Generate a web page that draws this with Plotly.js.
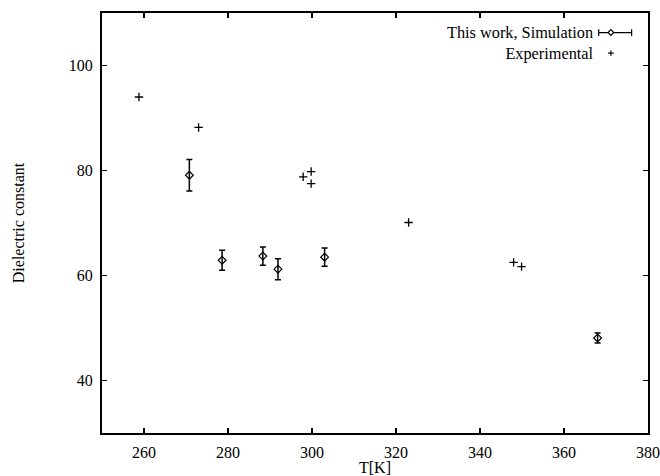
<!DOCTYPE html>
<html>
<head>
<meta charset="utf-8">
<script src="https://cdn.plot.ly/plotly-3.0.1.min.js"></script>
<style>html,body{margin:0;padding:0;background:#fff;}#chart{width:660px;height:476px;}</style>
</head>
<body>
<div id="chart"></div>
<script>
// Simulation (this work)
const simT = [270.8, 278.6, 288.3, 291.9, 303.0, 368.0];
const simEps = [79.1, 62.9, 63.7, 61.2, 63.5, 48.1];
const simErr = [3.0, 1.9, 1.75, 2.0, 1.75, 0.95];
// Experimental
const expT = [258.8, 273.0, 297.9, 299.8, 299.8, 323.0, 348.0, 349.9];
const expEps = [94.0, 88.2, 78.8, 79.8, 77.5, 70.1, 62.5, 61.7];
// Axis ticks
const xTicks = [260, 280, 300, 320, 340, 360, 380];
const yTicks = [40, 60, 80, 100];
const legendNames = ['This work, Simulation', 'Experimental'];

const font = '"Liberation Serif"';

const traces = [
  {
    x: simT, y: simEps, type: 'scatter', mode: 'markers', name: legendNames[0],
    marker: {symbol: 'diamond-open', size: 6, color: '#000', line: {width: 1.2, color: '#000'}},
    error_y: {type: 'data', array: simErr, visible: true, color: '#000', thickness: 1.5, width: 3},
    showlegend: false, cliponaxis: false
  },
  {
    x: expT, y: expEps, type: 'scatter', mode: 'markers', name: legendNames[1],
    marker: {symbol: 'cross-thin', size: 6, color: '#000', line: {width: 1.3, color: '#000'}},
    showlegend: false
  }
];

const axisCommon = {
  showline: true, linewidth: 2, linecolor: '#000', mirror: 'ticks',
  ticks: 'inside', ticklen: 5, tickwidth: 1.5, tickcolor: '#000',
  showgrid: false, zeroline: false, automargin: false,
  tickfont: {family: font, size: 16, color: '#000'}
};

// legend drawn gnuplot-style (text left of sample), one text block
const lx = 0.903, lyc = 0.929, ly1 = 0.9535, ly2 = 0.9045;
const shapes = [
  {type: 'line', xref: 'paper', yref: 'paper', x0: 0.9097, x1: 0.970, y0: ly1, y1: ly1, line: {color: '#000', width: 1.2}},
  {type: 'line', xref: 'paper', yref: 'paper', x0: 0.9097, x1: 0.9097, y0: ly1 - 0.008, y1: ly1 + 0.008, line: {color: '#000', width: 1.2}},
  {type: 'line', xref: 'paper', yref: 'paper', x0: 0.970, x1: 0.970, y0: ly1 - 0.008, y1: ly1 + 0.008, line: {color: '#000', width: 1.2}},
  {type: 'path', xref: 'paper', yref: 'paper',
   path: 'M0.932,' + (ly1 + 0.007) + ' L0.9372,' + ly1 + ' L0.932,' + (ly1 - 0.007) + ' L0.9268,' + ly1 + ' Z',
   line: {color: '#000', width: 1.2}, fillcolor: '#fff'},
  {type: 'line', xref: 'paper', yref: 'paper', x0: 0.9268, x1: 0.9372, y0: ly2, y1: ly2, line: {color: '#000', width: 1.2}},
  {type: 'line', xref: 'paper', yref: 'paper', x0: 0.932, x1: 0.932, y0: ly2 - 0.0065, y1: ly2 + 0.0065, line: {color: '#000', width: 1.2}}
];
const annotations = [
  {xref: 'paper', yref: 'paper', x: lx, y: lyc, xanchor: 'right', yanchor: 'middle', align: 'right',
   text: legendNames.join('<br>'), showarrow: false,
   borderpad: 0, font: {family: font, size: 16.3, color: '#000'}}
];

const layout = {
  width: 660, height: 476,
  margin: {l: 102, r: 12, t: 13, b: 43, pad: 0},
  paper_bgcolor: '#fff', plot_bgcolor: '#fff',
  font: {family: font, size: 16, color: '#000'},
  xaxis: Object.assign({}, axisCommon, {
    range: [250, 380], tickvals: xTicks, ticktext: xTicks.map(String), ticklabelstandoff: 4,
    title: {text: 'T[K]', font: {family: font, size: 16, color: '#000'}, standoff: 0}
  }),
  yaxis: Object.assign({}, axisCommon, {
    range: [30, 110], tickvals: yTicks, ticktext: yTicks.map(String), ticklabelstandoff: 4,
    title: {text: 'Dielectric constant', font: {family: font, size: 16, color: '#000'}, standoff: 40}
  }),
  shapes: shapes, annotations: annotations, showlegend: false
};

Plotly.newPlot('chart', traces, layout, {displayModeBar: false, staticPlot: true});
</script>
</body>
</html>
